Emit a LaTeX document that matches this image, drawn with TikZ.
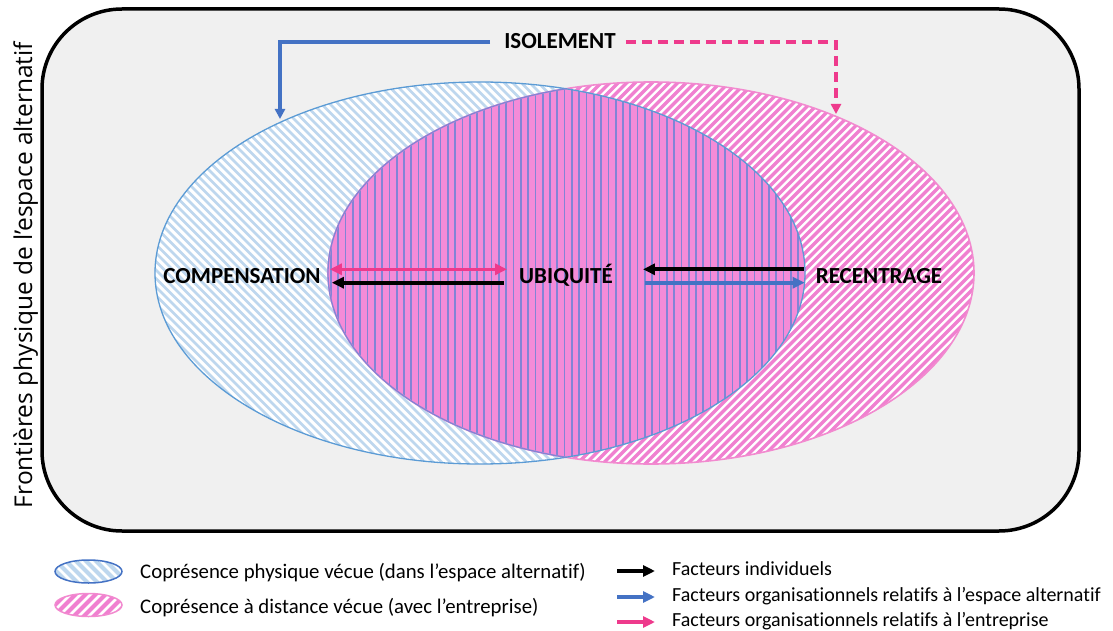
\documentclass[tikz,border=0pt]{standalone}
\usepackage{fontspec}
\setmainfont{Carlito}[Ligatures=NoCommon]
\newfontfamily\osans{Open Sans}
\usetikzlibrary{arrows.meta}
\definecolor{bgray}{RGB}{240,240,240}
\definecolor{eblue}{RGB}{91,155,213}
\definecolor{hblue}{RGB}{190,215,238}
\definecolor{epink}{RGB}{242,138,207}
\definecolor{hpink}{RGB}{240,128,208}
\definecolor{ipink}{RGB}{244,139,216}
\definecolor{iline}{RGB}{130,132,214}
\definecolor{ablue}{RGB}{68,114,196}
\definecolor{apink}{RGB}{238,58,140}
\begin{document}
\begin{tikzpicture}[x=1pt,y=-1pt,
  lbl/.style={font=\fontsize{23}{27}\selectfont\bfseries, inner sep=0pt, text height=15pt, text depth=0pt},
  leg/.style={font=\fontsize{20}{24}\selectfont, anchor=base west, inner sep=0pt},
  arr/.style={line width=3.8pt, -{Triangle[length=12pt,width=11pt]}},
  dblarr/.style={line width=3.6pt, {Triangle[length=12pt,width=11pt]}-{Triangle[length=12pt,width=11pt]}},
  elL/.style={x radius=325pt, y radius=191pt},
  elR/.style={x radius=323pt, y radius=191pt},
  legel/.style={x radius=33.5pt, y radius=11.5pt}
]
\useasboundingbox (0,0) rectangle (1113,631);
\draw[line width=3.5pt, fill=bgray, rounded corners=80pt] (42,9) rectangle (1079,531);

% left ellipse
\fill[white] (480,273) ellipse [elL];
\begin{scope}
  \clip (480,273) ellipse [elL];
  \foreach \i in {0,...,132} \draw[hblue, line width=2.8pt] (-292+8.5*\i,60) -- (148+8.5*\i,500);
\end{scope}

% right ellipse
\fill[white] (651,273) ellipse [elR];
\begin{scope}
  \clip (651,273) ellipse [elR];
  \foreach \i in {0,...,132} \draw[hpink, line width=3.3pt] (-122+8.5*\i,500) -- (318+8.5*\i,60);
\end{scope}

% intersection
\begin{scope}
  \clip (480,273) ellipse [elL];
  \clip (651,273) ellipse [elR];
  \fill[ipink] (300,60) rectangle (830,480);
  \foreach \i in {0,...,68} \draw[iline, line width=1.7pt] (331+7.3*\i,60) -- (331+7.3*\i,480);
\end{scope}

% outlines
\draw[epink, line width=1.6pt] (651,273) ellipse [elR];
\draw[eblue, line width=1.3pt] (480,273) ellipse [elL];
\begin{scope}
  \clip (480,273) ellipse [elL];
  \draw[iline, line width=1.3pt] (651,273) ellipse [elR];
\end{scope}

% labels
\node[lbl] (comp) at (242,276) {COMPENSATION};
\node[lbl] (ubi) at (566,276) {UBIQUITÉ};
\node[lbl] (rec) at (879,276) {RECENTRAGE};
\node[lbl] (iso) at (560,41) {ISOLEMENT};

% arrows between labels
\draw[dblarr, apink] ([xshift=9pt,yshift=6.7pt]comp.east) -- ([xshift=-12pt,yshift=6.7pt]ubi.west);
\draw[arr, black, line width=4.2pt] ([xshift=-15pt,yshift=-6.7pt]ubi.west) -- ([xshift=11pt,yshift=-6.7pt]comp.east);
\draw[arr, black, line width=4.2pt] ([xshift=-12pt,yshift=6.7pt]rec.west) -- ([xshift=30pt,yshift=6.7pt]ubi.east);
\draw[arr, ablue] ([xshift=32pt,yshift=-6.7pt]ubi.east) -- ([xshift=-11pt,yshift=-6.7pt]rec.west);

% isolement connectors
\coordinate (isoL) at (280,119);
\coordinate (isoR) at (836,114);
\draw[ablue, line width=3.6pt, -{Triangle[length=10pt,width=10pt]}] ([xshift=-14pt,yshift=-1pt]iso.west) -| (isoL);
\draw[apink, line width=3.6pt, dash pattern=on 10pt off 6pt, -{Triangle[length=10pt,width=10pt]}] ([xshift=10pt,yshift=-1pt]iso.east) -| (isoR);

% vertical text
\node[font=\osans\fontsize{24.5}{28}\selectfont, rotate=90, anchor=base, inner sep=0pt] (front) at (32,275) {Frontières physique de l’espace alternatif};

% legend ellipses
\fill[white] (88.5,571.5) ellipse [legel];
\begin{scope}
  \clip (88.5,571.5) ellipse [legel];
  \foreach \i in {0,...,12} \draw[hblue, line width=4pt] (20+10*\i,555) -- (50+10*\i,585);
\end{scope}
\draw[ablue, line width=1.5pt] (88.5,571.5) ellipse [legel];
\fill[white] (88.5,605) ellipse [legel];
\begin{scope}
  \clip (88.5,605) ellipse [legel];
  \foreach \i in {0,...,12} \draw[hpink, line width=4pt] (20+10*\i,620) -- (50+10*\i,590);
\end{scope}
\draw[epink, line width=1.5pt] (88.5,605) ellipse [legel];

% legend texts
\node[leg, font=\fontsize{20.8}{24}\selectfont] (l1) at (140,578) {Coprésence physique vécue (dans l’espace alternatif)};
\node[leg, font=\fontsize{20.8}{24}\selectfont] (l2) at (140,613) {Coprésence à distance vécue (avec l’entreprise)};
\node[leg] (l3) at (672,575) {Facteurs individuels};
\node[leg] (l4) at (672,601) {Facteurs organisationnels relatifs à l’espace alternatif};
\node[leg] (l5) at (672,626) {Facteurs organisationnels relatifs à l’entreprise};

% legend arrows
\draw[arr, black] ([xshift=-55pt,yshift=4pt]l3.base west) -- ([xshift=-17pt,yshift=4pt]l3.base west);
\draw[arr, ablue] ([xshift=-55pt,yshift=4pt]l4.base west) -- ([xshift=-17pt,yshift=4pt]l4.base west);
\draw[arr, apink] ([xshift=-55pt,yshift=4pt]l5.base west) -- ([xshift=-17pt,yshift=4pt]l5.base west);
\end{tikzpicture}
\end{document}
